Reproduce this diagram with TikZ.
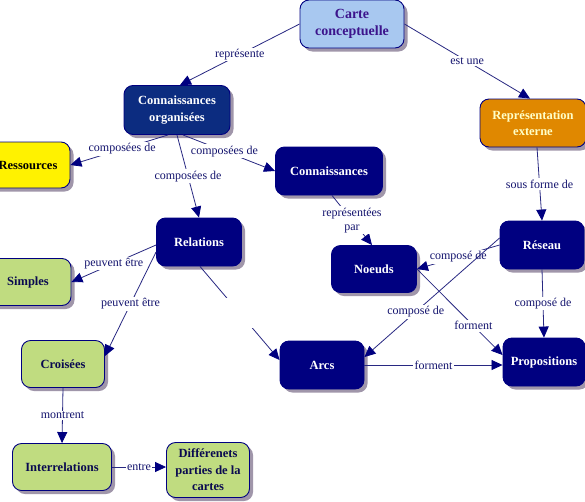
\documentclass[tikz,border=0pt]{standalone}
\usepackage{fontspec}
\setmainfont{Liberation Serif}
\usetikzlibrary{arrows.meta,shadows}
\definecolor{navy}{RGB}{0,0,128}
\definecolor{cobox}{RGB}{12,44,128}
\definecolor{lightblue}{RGB}{168,200,240}
\definecolor{cartetext}{RGB}{60,20,140}
\definecolor{orangebox}{RGB}{224,136,0}
\definecolor{orangetext}{RGB}{255,255,200}
\definecolor{greenbox}{RGB}{192,220,128}
\definecolor{darktext}{RGB}{10,10,80}
\definecolor{shadowc}{RGB}{160,150,170}
\definecolor{linec}{RGB}{40,40,130}
\definecolor{labelc}{RGB}{20,20,110}
\begin{document}
\begin{tikzpicture}[x=1pt,y=-1pt,
  box/.style={rounded corners=9pt, draw=navy, line width=0.9pt, align=center,
    font=\fontsize{12.5pt}{16.5pt}\selectfont\bfseries, inner sep=2pt,
    drop shadow={shadow xshift=3.5pt, shadow yshift=-3.5pt, fill=shadowc, opacity=1}},
  navybox/.style={box, fill=navy, text=white},
  cobox/.style={box, fill=cobox, text=white},
  cartebox/.style={box, fill=lightblue, text=cartetext, font=\fontsize{14pt}{17.5pt}\selectfont\bfseries},
  orangebox/.style={box, fill=orangebox, text=orangetext},
  greenbox/.style={box, fill=greenbox, text=darktext},
  yellowbox/.style={box, fill=yellow, text=black},
  arr/.style={draw=linec, line width=0.8pt, -{Triangle[length=11pt,width=10pt,color=navy]}},
  lbl/.style={fill=white, inner sep=1.5pt, text=labelc, font=\fontsize{12pt}{14pt}\selectfont, align=center},
  blank/.style={fill=white, inner sep=0pt, minimum width=30pt, minimum height=30pt}
]
\useasboundingbox (0,0) rectangle (585,501);
\clip (0,0) rectangle (585,501);
\fill[white] (0,0) rectangle (585,501);

\node[cartebox, minimum width=104pt, minimum height=48pt] (carte) at (352,24) {Carte\\conceptuelle};
\node[cobox, minimum width=106pt, minimum height=49pt] (co) at (177,110) {Connaissances\\organisées};
\node[yellowbox, minimum width=84pt, minimum height=46pt] (res) at (28,165) {Ressources};
\node[navybox, minimum width=107pt, minimum height=48pt] (conn) at (329,171) {Connaissances};
\node[navybox, minimum width=85pt, minimum height=48pt] (rel) at (199,242) {Relations};
\node[orangebox, minimum width=106pt, minimum height=48pt] (rep) at (533,123) {Représentation\\externe};
\node[navybox, minimum width=84pt, minimum height=48pt] (reseau) at (542,245) {Réseau};
\node[navybox, minimum width=85pt, minimum height=47pt] (noeuds) at (374,269) {Noeuds};
\node[greenbox, minimum width=86pt, minimum height=47pt] (simples) at (28,282) {Simples};
\node[greenbox, minimum width=83pt, minimum height=47pt] (crois) at (63,364) {Croisées};
\node[greenbox, minimum width=99pt, minimum height=47pt] (inter) at (62,467) {Interrelations};
\node[greenbox, minimum width=83pt, minimum height=55pt] (diff) at (208,470) {Différenets\\parties de la\\cartes};
\node[navybox, minimum width=84pt, minimum height=48pt] (arcs) at (322,365) {Arcs};
\node[navybox, minimum width=82pt, minimum height=48pt] (prop) at (544,362) {Propositions};

\draw[arr] (carte.west) -- node[lbl] {représente} ([xshift=3pt]co.north);
\draw[arr] (carte.east) -- node[lbl] {est une} ([xshift=-3pt]rep.north);
\draw[arr] ([xshift=-9pt]co.south) -- node[lbl, pos=0.47] {composées de} (res.east);
\draw[arr] ([xshift=6pt]co.south) -- node[lbl, pos=0.45] {composées de} (conn.west);
\draw[arr] (co.south) -- node[lbl] {composées de} (rel.north);
\draw[arr] ([xshift=4pt]rep.south) -- node[lbl] {sous forme de} (reseau.north);
\draw[arr] ([xshift=3pt]conn.south) -- node[lbl] {représentées\\par} ([xshift=-2pt]noeuds.north);
\draw[arr] (reseau.west) -- node[lbl] {composé de} (noeuds.east);
\draw[arr] ([yshift=7pt]reseau.west) -- node[lbl, pos=0.62] {composé de} ([yshift=8pt]arcs.east);
\draw[arr] (reseau.south) -- node[lbl] {composé de} (prop.north);
\draw[arr] (noeuds.east) -- node[lbl, pos=0.66] {forment} ([yshift=7pt]prop.west);
\draw[arr] (arcs.east) -- node[lbl] {forment} ([yshift=-3pt]prop.west);
\draw[arr] ([yshift=-3pt]rel.west) -- node[lbl] {peuvent être} (simples.east);
\draw[arr] ([yshift=-10pt]rel.west) -- node[lbl] {peuvent être} ([yshift=8pt]crois.east);
\draw[arr] ([xshift=1pt]rel.south) -- node[blank] {} ([yshift=5pt]arcs.west);
\draw[arr] (crois.south) -- node[lbl] {montrent} (inter.north);
\draw[arr] (inter.east) -- node[lbl] {entre} ([yshift=3pt]diff.west);
\end{tikzpicture}
\end{document}
